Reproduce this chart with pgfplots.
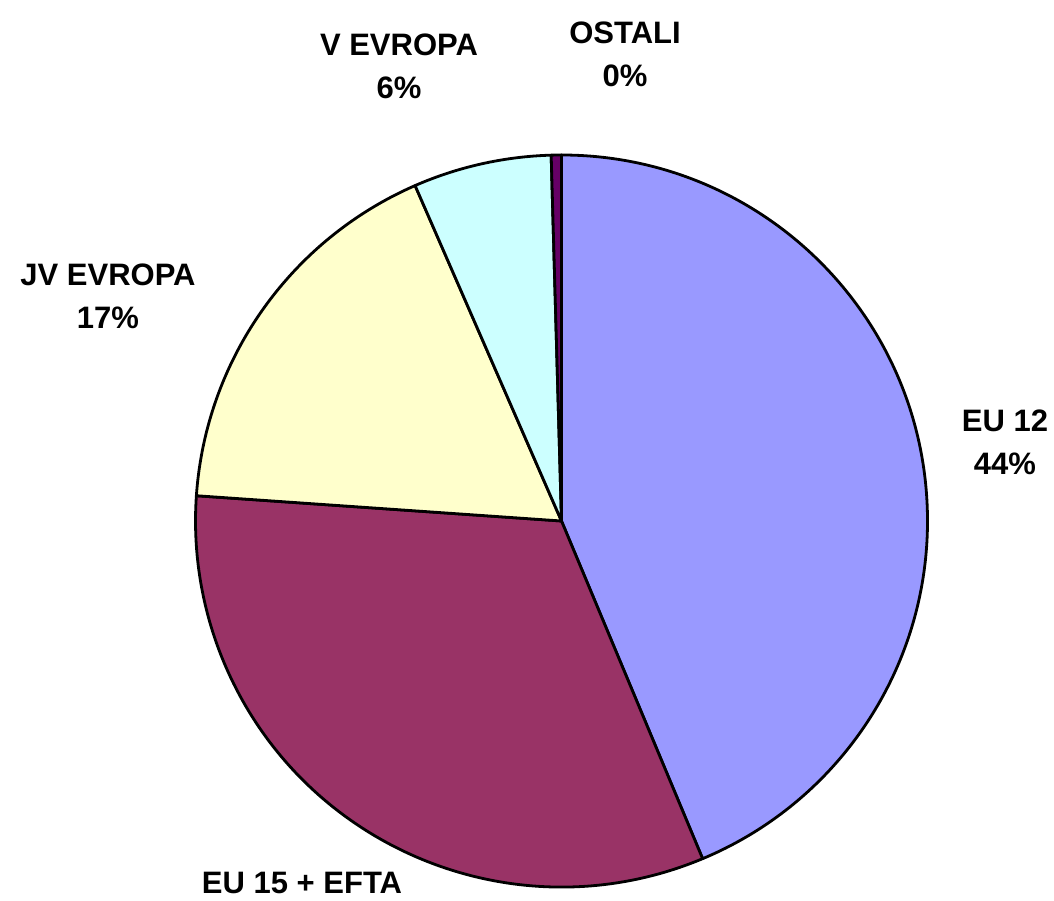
\documentclass[border=0pt]{standalone}
\usepackage{pgfplots}
\pgfplotsset{compat=1.18}
\usepackage{fontspec}
\setmainfont{Liberation Sans}
\definecolor{cEUtw}{HTML}{9999FF}
\definecolor{cEUft}{HTML}{993366}
\definecolor{cJV}{HTML}{FFFFCC}
\definecolor{cV}{HTML}{CCFFFF}
\definecolor{cOst}{HTML}{660066}
% shares in percent (clockwise from 12 o'clock)
\def\vA{43.7}  % EU 12
\def\vB{32.4}  % EU 15 + EFTA
\def\vC{17.35} % JV EVROPA
\def\vD{6.1}   % V EVROPA
\def\vE{0.45}  % OSTALI
\newcommand\lbl{\fontsize{15.5}{21.5}\selectfont\bfseries}
\begin{document}
\begin{tikzpicture}
\pgfmathsetmacro\aA{90}
\pgfmathsetmacro\aB{\aA-3.6*\vA}
\pgfmathsetmacro\aC{\aB-3.6*\vB}
\pgfmathsetmacro\aD{\aC-3.6*\vC}
\pgfmathsetmacro\aE{\aD-3.6*\vD}
\pgfmathsetmacro\aF{\aE-3.6*\vE}
\begin{axis}[
  hide axis, scale only axis,
  width=527pt, height=450pt,
  xmin=0, xmax=1054, ymin=0, ymax=900,
  clip=false,
]
\def\R{183pt}
\filldraw[fill=cEUtw, draw=black, line width=1.4pt, line join=round]
  (axis cs:561.5,379) -- ++(\aA:\R) arc[start angle=\aA, end angle=\aB, radius=\R] -- cycle;
\filldraw[fill=cEUft, draw=black, line width=1.4pt, line join=round]
  (axis cs:561.5,379) -- ++(\aB:\R) arc[start angle=\aB, end angle=\aC, radius=\R] -- cycle;
\filldraw[fill=cJV, draw=black, line width=1.4pt, line join=round]
  (axis cs:561.5,379) -- ++(\aC:\R) arc[start angle=\aC, end angle=\aD, radius=\R] -- cycle;
\filldraw[fill=cV, draw=black, line width=1.4pt, line join=round]
  (axis cs:561.5,379) -- ++(\aD:\R) arc[start angle=\aD, end angle=\aE, radius=\R] -- cycle;
\filldraw[fill=cOst, draw=black, line width=1.4pt, line join=round]
  (axis cs:561.5,379) -- ++(\aE:\R) arc[start angle=\aE, end angle=\aF, radius=\R] -- cycle;
\node[align=center, font=\lbl, inner sep=0pt] at (axis cs:1005,458) {EU 12\\44\%};
\node[align=center, font=\lbl, inner sep=0pt] at (axis cs:302,17) {EU 15 + EFTA};
\node[align=center, font=\lbl, inner sep=0pt] at (axis cs:108,604) {JV EVROPA\\17\%};
\node[align=center, font=\lbl, inner sep=0pt] at (axis cs:399,834) {V EVROPA\\6\%};
\node[align=center, font=\lbl, inner sep=0pt] at (axis cs:625,845.5) {OSTALI\\0\%};
\end{axis}
\pgfresetboundingbox
\path[use as bounding box] (current axis.south west) rectangle (current axis.north east);
\end{tikzpicture}
\end{document}
